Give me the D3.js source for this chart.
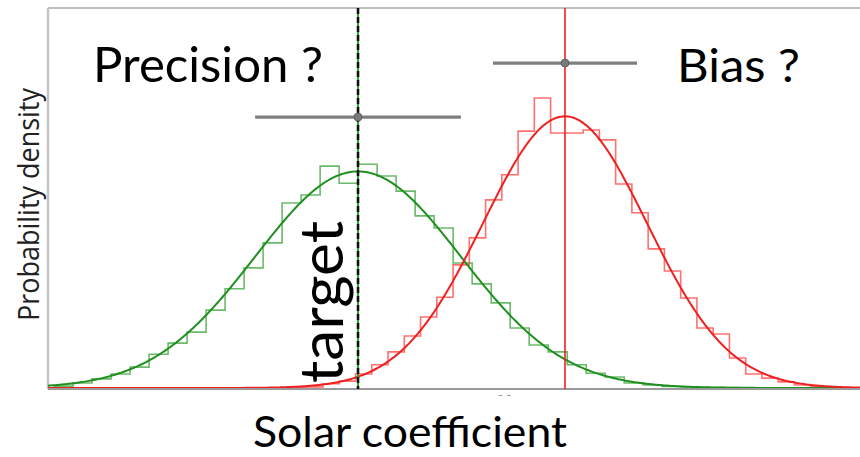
<!DOCTYPE html>
<html>
<head>
<meta charset="utf-8">
<script src="https://cdn.jsdelivr.net/npm/d3@7"></script>
<style>
  html, body { margin: 0; padding: 0; background: #fff; }
  svg { display: block; }
</style>
</head>
<body>
<svg id="chart" width="860" height="457"></svg>
<script>
// ---------------- data ----------------
const seriesNames = ["precise", "biased"];
// histogram of the "precise" (green) sample: first bin edge, bin width, densities
const greenBinStart = 6.932;
const greenBinWidth = 0.1293;
const greenDensity = [0.005, 0.013, 0.024, 0.037, 0.055, 0.089, 0.118, 0.147, 0.205, 0.261,
  0.316, 0.382, 0.487, 0.508, 0.584, 0.539, 0.589, 0.558, 0.518, 0.453,
  0.421, 0.329, 0.274, 0.224, 0.158, 0.113, 0.095, 0.061, 0.039, 0.029,
  0.013, 0.008, 0.004, 0.003, 0.001, 0.001];
// histogram of the "biased" (red) sample
const redBinStart = 8.43;
const redBinWidth = 0.1106;
const redDensity = [0.000, 0.001, 0.003, 0.011, 0.018, 0.037, 0.061, 0.095, 0.137, 0.187,
  0.239, 0.324, 0.395, 0.495, 0.561, 0.676, 0.763, 0.671, 0.671, 0.679,
  0.653, 0.537, 0.461, 0.366, 0.308, 0.237, 0.158, 0.142, 0.079, 0.037,
  0.026, 0.016, 0.008, 0.003, 0.001];
// fitted normal curves [green, red]
const fitMean = [9.0, 10.408];
const fitSigma = [0.70, 0.558];
// error bars (estimate ± spread) drawn at a given height
const errCenter = [9.0, 10.408];
const errHalfWidth = [0.70, 0.49];
const errLevel = [0.713, 0.855];
const targetValue = 9.0;
const xDomain = [6.891, 12.415];
const yDomain = [0, 1.0];
const xTickValues = [10];
const xTickLabels = ["10"];

// ---------------- drawing ----------------
const svg = d3.select("#chart");
const x = d3.scaleLinear().domain(xDomain).range([48, 860]);
const y = d3.scaleLinear().domain(yDomain).range([388, 8]);

const green = "#1f8f1f", greenHist = "#3aa33a";
const red = "#ee2020", redHist = "#ff3333";

// frame
svg.append("line").attr("x1", 48).attr("x2", 860).attr("y1", 8).attr("y2", 8)
  .attr("stroke", "#a9a9a9").attr("stroke-width", 1.5);
svg.append("line").attr("x1", 48).attr("x2", 48).attr("y1", 8).attr("y2", 389)
  .attr("stroke", "#c4c4c4").attr("stroke-width", 2.5);

// histograms
function stepPath(start, width, dens) {
  const pts = [[start, 0]];
  dens.forEach((d, i) => {
    pts.push([start + i * width, d]);
    pts.push([start + (i + 1) * width, d]);
  });
  pts.push([start + dens.length * width, 0]);
  return d3.line().x(p => x(p[0])).y(p => y(p[1]))(pts);
}
svg.append("path").attr("d", stepPath(greenBinStart, greenBinWidth, greenDensity))
  .attr("fill", "none").attr("stroke", greenHist).attr("stroke-opacity", 0.75).attr("stroke-width", 1.6);
svg.append("path").attr("d", stepPath(redBinStart, redBinWidth, redDensity))
  .attr("fill", "none").attr("stroke", redHist).attr("stroke-opacity", 0.7).attr("stroke-width", 1.6);

// fitted curves
const xs = d3.range(xDomain[0], xDomain[1] + 0.01, 0.01);
function pdf(v, m, s) { return Math.exp(-0.5 * ((v - m) / s) ** 2) / (s * Math.sqrt(2 * Math.PI)); }
[green, red].forEach((c, i) => {
  svg.append("path")
    .attr("d", d3.line().x(v => x(v)).y(v => y(pdf(v, fitMean[i], fitSigma[i])))(xs))
    .attr("fill", "none").attr("stroke", c).attr("stroke-width", 2);
});

// bottom spine
svg.append("line").attr("x1", 48).attr("x2", 860).attr("y1", 389).attr("y2", 389)
  .attr("stroke", "#9a9a9a").attr("stroke-width", 1.8);

// tick label partially hidden
const tickG = svg.append("g");
xTickValues.forEach((t, i) => {
  tickG.append("text").attr("x", x(t)).attr("y", 404).attr("text-anchor", "middle")
    .attr("font-family", "DejaVu Sans").attr("font-size", 12).attr("fill", "#888")
    .text(xTickLabels[i]);
});
svg.append("rect").attr("x", 440).attr("y", 396).attr("width", 140).attr("height", 20).attr("fill", "#fff");

// vertical lines
svg.append("line").attr("x1", x(targetValue)).attr("x2", x(targetValue)).attr("y1", 8).attr("y2", 389)
  .attr("stroke", "#22a822").attr("stroke-width", 2);
svg.append("line").attr("x1", x(targetValue)).attr("x2", x(targetValue)).attr("y1", 8).attr("y2", 389)
  .attr("stroke", "#111").attr("stroke-width", 2.6).attr("stroke-dasharray", "6,3");
svg.append("line").attr("x1", x(fitMean[1])).attr("x2", x(fitMean[1])).attr("y1", 8).attr("y2", 389)
  .attr("stroke", red).attr("stroke-width", 1.6);

// error bars
errCenter.forEach((c, i) => {
  svg.append("line").attr("x1", x(c - errHalfWidth[i])).attr("x2", x(c + errHalfWidth[i]))
    .attr("y1", y(errLevel[i])).attr("y2", y(errLevel[i]))
    .attr("stroke", "#7f7f7f").attr("stroke-width", 3.2);
  svg.append("circle").attr("cx", x(c)).attr("cy", y(errLevel[i])).attr("r", 4)
    .attr("fill", "#7a7a7a").attr("stroke", "#555").attr("stroke-width", 0.8);
});

// texts
svg.append("text").attr("x", 93).attr("y", 82).attr("font-family", "Lato").attr("font-size", 48)
  .attr("textLength", 230).attr("lengthAdjust", "spacingAndGlyphs").text("Precision ?");
svg.append("text").attr("x", 677).attr("y", 82).attr("font-family", "Lato").attr("font-size", 46)
  .attr("textLength", 123).attr("lengthAdjust", "spacingAndGlyphs").text("Bias ?");
svg.append("text").attr("transform", "translate(343,383) rotate(-90)")
  .attr("font-family", "Lato").attr("font-size", 60)
  .attr("textLength", 162).attr("lengthAdjust", "spacingAndGlyphs").text("target");
svg.append("text").attr("x", 253).attr("y", 447).attr("font-family", "Lato").attr("font-size", 42)
  .attr("textLength", 314).attr("lengthAdjust", "spacingAndGlyphs").text("Solar coefficient");
svg.append("text").attr("transform", "translate(39,321) rotate(-90)")
  .attr("font-family", "Open Sans").attr("font-size", 30).attr("fill", "#222")
  .attr("textLength", 233).attr("lengthAdjust", "spacingAndGlyphs").text("Probability density");
</script>
</body>
</html>
